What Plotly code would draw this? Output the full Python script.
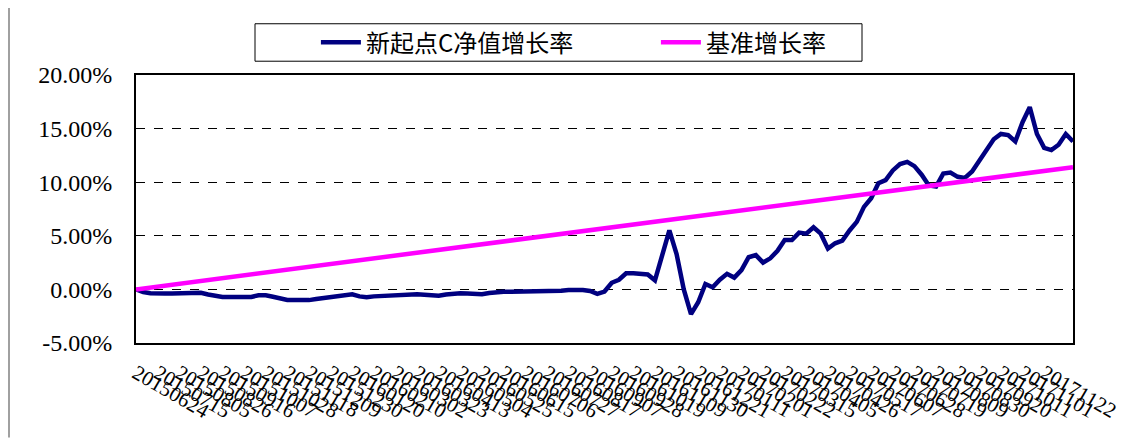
import pandas as pd
import plotly.graph_objects as go

# ---- data ----
dates = [d.strftime("%Y%m%d") for d in pd.date_range("2015-06-24", periods=131, freq="7D")]

fund_name = "新起点C净值增长率"
bench_name = "基准增长率"

fund_values = [
    0.00, -0.25, -0.35, -0.40, -0.39, -0.38, -0.36, -0.35, -0.28, -0.32,
    -0.48, -0.62, -0.70, -0.70, -0.72, -0.70, -0.70, -0.55, -0.55, -0.68,
    -0.85, -0.98, -1.00, -1.02, -1.00, -0.90, -0.80, -0.70, -0.60, -0.52,
    -0.45, -0.65, -0.72, -0.65, -0.62, -0.60, -0.52, -0.45, -0.45, -0.45,
    -0.50, -0.60, -0.60, -0.47, -0.40, -0.37, -0.38, -0.42, -0.45, -0.33,
    -0.25, -0.23, -0.22, -0.20, -0.20, -0.20, -0.20, -0.20, -0.20, -0.12,
    -0.05, 0.00, -0.05, -0.15, -0.42, -0.20, 0.62, 0.90, 1.50, 1.50,
    1.45, 1.40, 0.85, 3.20, 5.50, 3.30, 0.00, -2.30, -1.20, 0.50,
    0.20, 0.90, 1.45, 1.10, 1.80, 3.00, 3.20, 2.50, 2.90, 3.60,
    4.60, 4.60, 5.30, 5.20, 5.80, 5.20, 3.80, 4.30, 4.55, 5.50,
    6.30, 7.70, 8.50, 9.90, 10.20, 11.10, 11.70, 11.90, 11.50, 10.70,
    9.70, 9.60, 10.80, 10.90, 10.50, 10.40, 11.00, 12.00, 13.10, 14.00,
    14.50, 14.40, 13.80, 15.60, 17.00, 14.50, 13.20, 13.00, 13.50, 14.50,
    13.80,
]

bench_index = [0, 13, 26, 39, 52, 65, 78, 91, 104, 117, 130]
bench_values = [0.0, 1.15, 2.3, 3.4, 4.55, 5.7, 6.85, 8.0, 9.1, 10.25, 11.4]

y_ticks = [-5, 0, 5, 10, 15, 20]
label_step = 3

# ---- figure ----
fig = go.Figure()
fig.add_trace(go.Scatter(
    x=list(range(len(dates))), y=fund_values, mode="lines", name=fund_name,
    line=dict(color="#000080", width=4.5),
))
fig.add_trace(go.Scatter(
    x=bench_index, y=bench_values, mode="lines", name=bench_name,
    line=dict(color="#FF00FF", width=4.5),
))

serif = "Liberation Serif, DejaVu Serif, serif"
cjk = "Noto Sans CJK SC, sans-serif"

fig.update_layout(
    width=1128, height=431,
    margin=dict(l=128, r=63, t=63, b=96),
    paper_bgcolor="white", plot_bgcolor="white",
    showlegend=True,
    legend=dict(
        orientation="h", x=0.192, y=1.121, xanchor="left", yanchor="middle",
        font=dict(family=cjk, size=24, color="black"),
        bgcolor="rgba(0,0,0,0)", borderwidth=0,
        entrywidth=285, itemwidth=40,
    ),
    font=dict(family=serif, color="black"),
)

fig.update_yaxes(
    range=[-5, 20], tickvals=y_ticks,
    ticktext=[f"{v:.2f}%" for v in y_ticks],
    tickfont=dict(family=serif, size=24, color="black"),
    showgrid=True, gridcolor="black", griddash="dash", gridwidth=1,
    zeroline=False, automargin=False,
    showline=True, linecolor="black", linewidth=2, mirror=True,
    ticks="", ticklabelstandoff=17,
)
fig.update_xaxes(
    type="linear", range=[0, len(dates) - 1],
    tickvals=list(range(0, len(dates), label_step)),
    ticktext=dates[::label_step],
    tickangle=30,
    tickfont=dict(family=serif, size=21, color="black"),
    showgrid=False, zeroline=False, automargin=False,
    showline=True, linecolor="black", linewidth=2, mirror=True,
    ticks="", ticklabelstandoff=8,
)

# legend box and outer chart frame
fig.add_shape(type="rect", xref="paper", yref="paper",
              x0=(255 - 136) / 937, x1=(862 - 136) / 937,
              y0=(343 - 57) / 272, y1=(343 - 19) / 272,
              line=dict(color="black", width=1), fillcolor="rgba(0,0,0,0)")
fig.add_shape(type="line", xref="paper", yref="paper",
              x0=(9 - 136) / 937, x1=(9 - 136) / 937,
              y0=(343 - 439) / 272, y1=(343 - 0) / 272,
              line=dict(color="#808080", width=1.5))

fig.write_html("out.html")
